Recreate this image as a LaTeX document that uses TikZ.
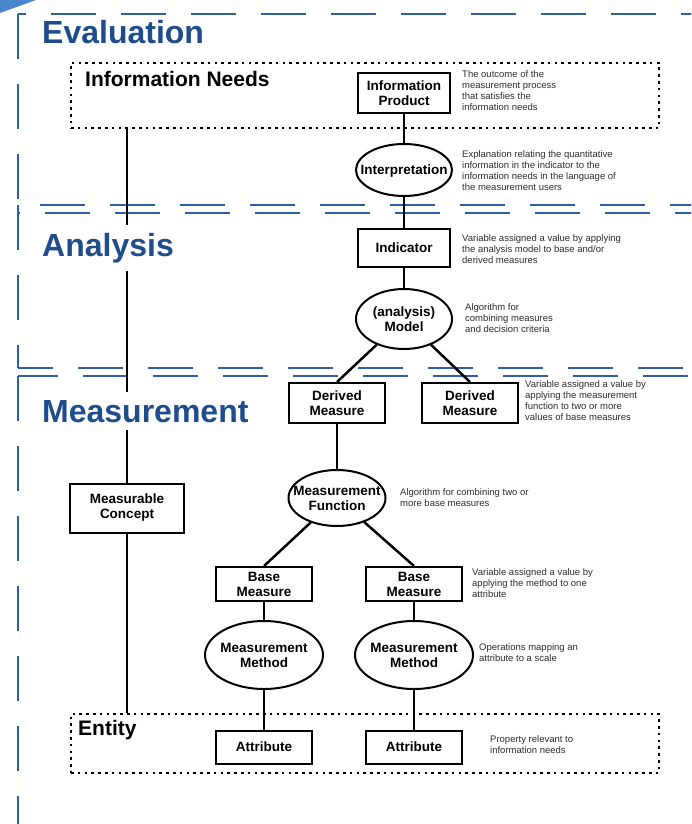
\documentclass[tikz,border=0pt]{standalone}
\usepackage{fontspec}
\setmainfont{Liberation Sans}
\usetikzlibrary{shapes.geometric}

\definecolor{framblue}{RGB}{47,95,172}
\definecolor{headblue}{RGB}{31,76,138}
\definecolor{cornerblue}{RGB}{74,134,204}
\definecolor{desctext}{RGB}{45,45,45}

% centred multi-line text of fixed zero size, so an ellipse keeps its set size
\newcommand{\elltext}[1]{\makebox[0pt]{\raisebox{-5.2pt}[0pt][0pt]{\begin{tabular}{@{}c@{}}#1\end{tabular}}}}

\tikzset{
  frame/.style={draw=framblue, line width=2.8pt, dash pattern=on 45pt off 25pt},
  dotbox/.style={draw, rectangle, line width=2.6pt, dash pattern=on 2.6pt off 4.2pt, inner sep=0pt},
  stepbox/.style={rectangle, draw, fill=white, line width=2pt, inner sep=0pt, align=center,
    font=\fontsize{13.5}{15}\selectfont\bfseries},
  stepell/.style={ellipse, draw, fill=white, line width=2pt, inner sep=0pt,
    font=\fontsize{13.5}{15}\selectfont\bfseries},
  conn/.style={line width=2.5pt},
  desc/.style={anchor=north west, align=left, inner sep=0pt,
    font=\fontsize{9.5}{11}\selectfont, text=desctext},
  heading/.style={anchor=base west, inner xsep=0pt, inner ysep=8pt,
    font=\fontsize{32}{36}\selectfont\bfseries, text=headblue},
  boxlabel/.style={anchor=base west, inner sep=0pt, font=\fontsize{21}{24}\selectfont\bfseries}
}

\begin{document}
\begin{tikzpicture}[x=1pt,y=-1pt]
\useasboundingbox (0,0) rectangle (691,824);
\fill[white] (0,0) rectangle (691,824);

% section frames
\begin{scope}
  \clip (0,0) rectangle (691,824);
  \fill[cornerblue] (0,0) -- (36,0) -- (0,13) -- cycle;
  % Evaluation
  \draw[frame, dash phase=37pt] (18,14) -- (760,14);
  \draw[frame] (18,14) -- (18,213);
  \draw[frame, dash phase=43pt] (18,213) -- (760,213);
  % Analysis
  \draw[frame, dash phase=48pt] (18,205) -- (760,205);
  \draw[frame] (18,205) -- (18,368);
  \draw[frame, dash phase=10pt] (18,368) -- (760,368);
  % Measurement
  \draw[frame, dash phase=5pt] (18,376) -- (760,376);
  \draw[frame] (18,376) -- (18,860);
\end{scope}

% dotted groups
\node[dotbox, minimum width=588pt, minimum height=65pt] (needs) at (365,95.5) {};
\node[dotbox, minimum width=588pt, minimum height=59pt] (entity) at (365,743.5) {};
\node[boxlabel] (needslabel) at (85,87) {Information Needs};
\node[boxlabel] (entitylabel) at (78,735) {Entity};

% chain of steps
\node[stepbox, minimum width=92pt, minimum height=40pt] (infoprod) at (404,93) {Information\\Product};
\node[stepell, minimum width=96pt, minimum height=52pt] (interp) at (404,170) {\elltext{Interpretation}};
\node[stepbox, minimum width=92pt, minimum height=38pt] (indicator) at (404,248) {Indicator};
\node[stepell, minimum width=96pt, minimum height=60pt] (model) at (404,319) {\elltext{(analysis)\\Model}};
\node[stepbox, minimum width=96pt, minimum height=40pt] (dm1) at (337,403) {Derived\\Measure};
\node[stepbox, minimum width=96pt, minimum height=40pt] (dm2) at (470,403) {Derived\\Measure};
\node[stepell, minimum width=97pt, minimum height=56pt] (mfunc) at (337,498) {\elltext{Measurement\\Function}};
\node[stepbox, minimum width=96pt, minimum height=34pt] (bm1) at (264,584) {Base\\Measure};
\node[stepbox, minimum width=96pt, minimum height=34pt] (bm2) at (414,584) {Base\\Measure};
\node[stepell, minimum width=118pt, minimum height=68pt] (mm1) at (264,655) {\elltext{Measurement\\Method}};
\node[stepell, minimum width=118pt, minimum height=68pt] (mm2) at (414,655) {\elltext{Measurement\\Method}};
\node[stepbox, minimum width=96pt, minimum height=33pt] (attr1) at (264,747) {Attribute};
\node[stepbox, minimum width=96pt, minimum height=33pt] (attr2) at (414,747) {Attribute};
\node[stepbox, minimum width=114pt, minimum height=49pt] (mc) at (127,508) {Measurable\\Concept};

% connectors
\draw[conn] (needs.south -| mc.north) -- (mc.north);
\draw[conn] (mc.south) -- (mc.south |- entity.north);
\draw[conn] (infoprod) -- (interp);
\draw[conn] (interp) -- (indicator);
\draw[conn] (indicator) -- (model);
\draw[conn] (model) -- (dm1.north);
\draw[conn] (model) -- (dm2.north);
\draw[conn] (dm1) -- (mfunc);
\draw[conn] (mfunc) -- (bm1.north);
\draw[conn] (mfunc) -- (bm2.north);
\draw[conn] (bm1) -- (mm1);
\draw[conn] (bm2) -- (mm2);
\draw[conn] (mm1) -- (attr1);
\draw[conn] (mm2) -- (attr2);

% section headings (the lower two break the left connector)
\node[heading] (evalhead) at (42,44) {Evaluation};
\node[heading, fill=white] (anahead) at (42,256) {Analysis};
\node[heading, fill=white] (meashead) at (42,422) {Measurement};

% definitions
\node[desc] (d1) at (462,70) {The outcome of the\\measurement process\\that satisfies the\\information needs};
\node[desc] (d2) at (462,150) {Explanation relating the quantitative\\information in the indicator to the\\information needs in the language of\\the measurement users};
\node[desc] (d3) at (462,234) {Variable assigned a value by applying\\the analysis model to base and/or\\derived measures};
\node[desc] (d4) at (465,303) {Algorithm for\\combining measures\\and decision criteria};
\node[desc] (d5) at (525,380) {Variable assigned a value by\\applying the measurement\\function to two or more\\values of base measures};
\node[desc] (d6) at (400,488) {Algorithm for combining two or\\more base measures};
\node[desc] (d7) at (472,568) {Variable assigned a value by\\applying the method to one\\attribute};
\node[desc] (d8) at (479,643) {Operations mapping an\\attribute to a scale};
\node[desc] (d9) at (490,735) {Property relevant to\\information needs};
\end{tikzpicture}
\end{document}
